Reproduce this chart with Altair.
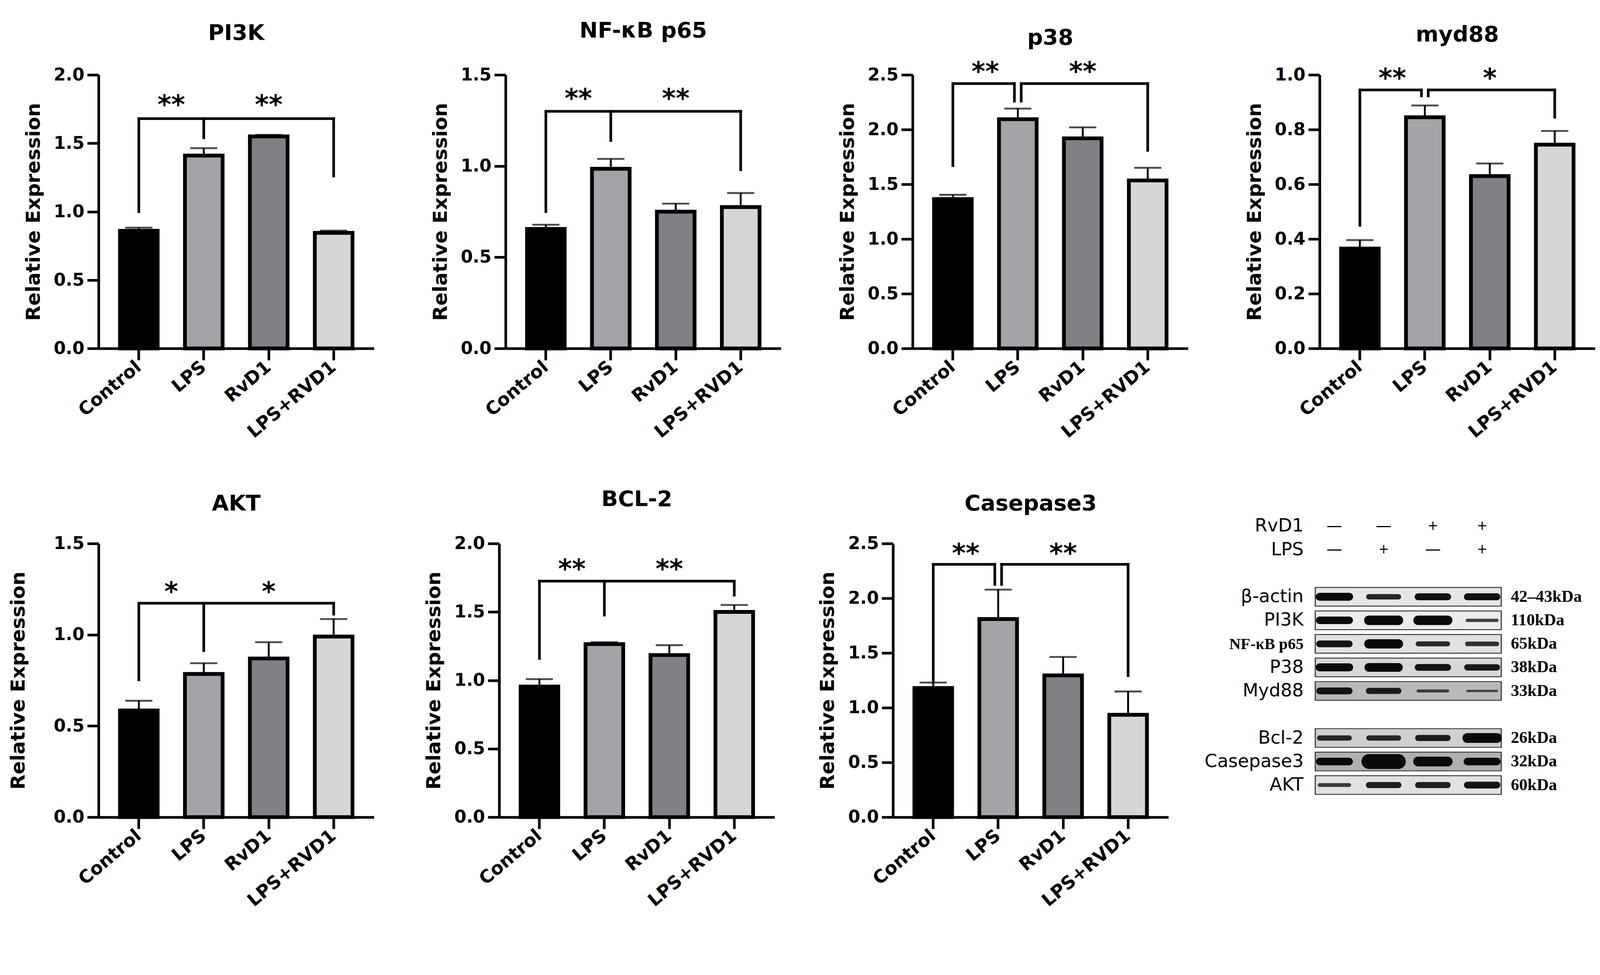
import altair as alt
import pandas as pd

# ---------------- data ----------------
groups = ["Control", "LPS", "RvD1", "LPS+RVD1"]
bar_colors = ["#000000", "#a3a4a8", "#7f8184", "#d4d6d8"]

titles = ["PI3K", "NF-κB p65", "p38", "myd88", "AKT", "BCL-2", "Casepase3"]
y_max = [2.0, 1.5, 2.5, 1.0, 1.5, 2.0, 2.5]
y_step = [0.5, 0.5, 0.5, 0.2, 0.5, 0.5, 0.5]

pi3k_mean = [0.86, 1.41, 1.55, 0.845]
pi3k_sem = [0.023, 0.054, 0.011, 0.016]
nfkb_mean = [0.655, 0.985, 0.75, 0.775]
nfkb_sem = [0.023, 0.054, 0.044, 0.077]
p38_mean = [1.365, 2.095, 1.92, 1.535]
p38_sem = [0.039, 0.097, 0.10, 0.116]
myd88_mean = [0.365, 0.845, 0.63, 0.745]
myd88_sem = [0.031, 0.043, 0.046, 0.05]
akt_mean = [0.585, 0.785, 0.87, 0.99]
akt_sem = [0.053, 0.059, 0.089, 0.096]
bcl2_mean = [0.955, 1.265, 1.185, 1.5]
bcl2_sem = [0.054, 0.014, 0.072, 0.051]
casp3_mean = [1.18, 1.81, 1.295, 0.935]
casp3_sem = [0.05, 0.269, 0.169, 0.213]

# significance brackets: bar height, leg bottoms (Control, LPS, LPS+RVD1)
bracket_y = [1.68, 1.30, 2.42, 0.945, 1.173, 1.725, 2.31]
pi3k_legs = [1.0, 1.54, 1.26]
nfkb_legs = [0.75, 1.14, 0.98]
p38_legs = [1.67, 2.26, 1.81]
myd88_legs = [0.45, 0.923, 0.845]
akt_legs = [0.753, 0.913, 1.113]
bcl2_legs = [1.16, 1.477, 1.623]
casp3_legs = [1.23, 2.126, 1.292]
star_y = [1.82, 1.40, 2.58, 1.007, 1.266, 1.852, 2.46]
star_labels = [["**", "**"], ["**", "**"], ["**", "**"], ["**", "*"],
               ["*", "*"], ["**", "**"], ["**", "**"]]
split_bracket = [False, False, True, True, False, False, True]

# western blot panel
blot_rows = ["β-actin", "PI3K", "NF-κB p65", "P38", "Myd88", "Bcl-2", "Casepase3", "AKT"]
blot_kda = ["42–43kDa", "110kDa", "65kDa", "38kDa", "33kDa", "26kDa", "32kDa", "60kDa"]
lanes = [1, 2, 3, 4]
band_bactin = [0.52, 0.36, 0.46, 0.46]
band_pi3k = [0.50, 0.63, 0.63, 0.22]
band_nfkb = [0.45, 0.62, 0.33, 0.30]
band_p38 = [0.53, 0.58, 0.45, 0.42]
band_myd88 = [0.45, 0.40, 0.20, 0.15]
band_bcl2 = [0.35, 0.35, 0.40, 0.65]
band_casp3 = [0.50, 0.98, 0.65, 0.50]
band_akt = [0.25, 0.40, 0.40, 0.45]
membrane_darkness = [0.15, 0.10, 0.20, 0.30, 0.65, 0.40, 0.75, 0.20]
rvd1_signs = ["—", "—", "+", "+"]
lps_signs = ["—", "+", "—", "+"]

# ---------------- layout / style ----------------
W, H = 730, 725
PAD_IN, PAD_OUT = 0.42, 0.33
STEP = W / (len(groups) - PAD_IN + 2 * PAD_OUT)
FONT = "DejaVu Sans"
title_offset = [58, 64, 27, 53, 53, 64, 53]
y_title_pad = [26, 26, 26, 26, 66, 26, 26]


def bar_panel(i, means, sems, legs):
    title = titles[i]
    ymax, ystep = y_max[i], y_step[i]
    ticks = [round(k * ystep, 2) for k in range(int(round(ymax / ystep)) + 1)]
    xscale = alt.Scale(domain=groups, paddingInner=PAD_IN, paddingOuter=PAD_OUT)
    yscale = alt.Scale(domain=[0, ymax], nice=False, zero=True)

    xaxis = alt.Axis(title=None, labelAngle=-40, labelAlign="right", labelBaseline="middle",
                     labelFont=FONT, labelFontWeight="bold", labelFontSize=48, labelColor="black",
                     labelPadding=12, labelLimit=600, domainColor="black", domainWidth=7,
                     tickColor="black", tickWidth=7, tickSize=31, grid=False)
    yaxis = alt.Axis(title="Relative Expression", values=ticks, format=".1f",
                     labelFont=FONT, labelFontWeight="bold", labelFontSize=46, labelColor="black",
                     labelPadding=8, titleFont=FONT, titleFontWeight="bold", titleFontSize=52,
                     titleColor="black", titlePadding=y_title_pad[i], domainColor="black",
                     domainWidth=7, tickColor="black", tickWidth=7, tickSize=30, grid=False)

    def X(field):
        return alt.X(field, sort=groups, scale=xscale, axis=xaxis, type="nominal")

    def Y(field):
        return alt.Y(field, scale=yscale, axis=yaxis, type="quantitative")

    df = pd.DataFrame({"group": groups, "mean": means,
                       "upper": [m + s for m, s in zip(means, sems)]})
    base = alt.Chart(df)

    bars = base.mark_bar(stroke="black", strokeWidth=10).encode(
        x=X("group"), y=Y("mean"),
        color=alt.Color("group:N", scale=alt.Scale(domain=groups, range=bar_colors), legend=None),
    )
    err = base.mark_rule(color="black", strokeWidth=5).encode(x=X("group"), y=Y("mean"), y2="upper:Q")
    cap = base.mark_tick(color="black", thickness=5, size=72).encode(x=X("group"), y=Y("upper"))

    # bracket segments
    by = bracket_y[i]
    segs = []
    if split_bracket[i]:
        segs.append(dict(g1=groups[0], g2=groups[1], y1=by, y2=by, s1=0, s2=-1))
        segs.append(dict(g1=groups[1], g2=groups[3], y1=by, y2=by, s1=1, s2=0))
        segs.append(dict(g1=groups[0], g2=groups[0], y1=legs[0], y2=by, s1=0, s2=0))
        segs.append(dict(g1=groups[1], g2=groups[1], y1=legs[1], y2=by, s1=-1, s2=-1))
        segs.append(dict(g1=groups[1], g2=groups[1], y1=legs[1], y2=by, s1=1, s2=1))
        segs.append(dict(g1=groups[3], g2=groups[3], y1=legs[2], y2=by, s1=0, s2=0))
    else:
        segs.append(dict(g1=groups[0], g2=groups[3], y1=by, y2=by, s1=0, s2=0))
        segs.append(dict(g1=groups[0], g2=groups[0], y1=legs[0], y2=by, s1=0, s2=0))
        segs.append(dict(g1=groups[1], g2=groups[1], y1=legs[1], y2=by, s1=0, s2=0))
        segs.append(dict(g1=groups[3], g2=groups[3], y1=legs[2], y2=by, s1=0, s2=0))
    seg_df = pd.DataFrame(segs)
    layers = [bars, err, cap]
    for a, b in [(0, 0), (0, -1), (1, 0), (-1, -1), (1, 1)]:
        sub = seg_df[(seg_df.s1 == a) & (seg_df.s2 == b)]
        if len(sub) == 0:
            continue
        layers.append(
            alt.Chart(sub).mark_rule(color="black", strokeWidth=7, strokeCap="square",
                                     xOffset=a * 9, x2Offset=b * 9).encode(
                x=X("g1"), x2="g2:N", y=Y("y1"), y2="y2:Q",
            )
        )
    # stars
    s1 = pd.DataFrame({"group": [groups[0]], "label": [star_labels[i][0]], "y": [star_y[i]]})
    s2 = pd.DataFrame({"group": [groups[2]], "label": [star_labels[i][1]], "y": [star_y[i]]})
    for sdf, dx in [(s1, STEP / 2), (s2, 0)]:
        layers.append(
            alt.Chart(sdf).mark_text(font=FONT, fontWeight="bold", fontSize=70, color="black",
                                     baseline="alphabetic", align="center", dx=dx, dy=38).encode(
                x=X("group"), y=Y("y"), text="label:N",
            )
        )
    return alt.layer(*layers).properties(
        width=W, height=H,
        title=alt.TitleParams(text=title, font=FONT, fontSize=58, fontWeight="bold",
                              color="black", anchor="middle", frame="group",
                              offset=title_offset[i]),
    )


p_pi3k = bar_panel(0, pi3k_mean, pi3k_sem, pi3k_legs)
p_nfkb = bar_panel(1, nfkb_mean, nfkb_sem, nfkb_legs)
p_p38 = bar_panel(2, p38_mean, p38_sem, p38_legs)
p_myd88 = bar_panel(3, myd88_mean, myd88_sem, myd88_legs)
p_akt = bar_panel(4, akt_mean, akt_sem, akt_legs)
p_bcl2 = bar_panel(5, bcl2_mean, bcl2_sem, bcl2_legs)
p_casp3 = bar_panel(6, casp3_mean, casp3_sem, casp3_legs)

# ---------------- western blot panel ----------------
band_lists = [band_bactin, band_pi3k, band_nfkb, band_p38, band_myd88, band_bcl2, band_casp3, band_akt]
band_df = pd.DataFrame([
    {"row": r, "lane": ln, "intensity": v}
    for r, vals in zip(blot_rows, band_lists) for ln, v in zip(lanes, vals)
])
memb_df = pd.DataFrame({"row": blot_rows, "dark": membrane_darkness, "kda": blot_kda})
sign_df = pd.DataFrame(
    [{"row": "RvD1", "lane": ln, "sign": s} for ln, s in zip(lanes, rvd1_signs)]
    + [{"row": "LPS", "lane": ln, "sign": s} for ln, s in zip(lanes, lps_signs)]
)

y_domain = ["RvD1", "LPS", " "] + blot_rows[:5] + ["  "] + blot_rows[5:]
ys = alt.Scale(type="point", domain=y_domain, range=[-46, 640], padding=0)
xs = alt.Scale(domain=[0.6, 4.4], nice=False, zero=False)

nf_test = "datum.value == 'NF-κB p65'"
left_axis = alt.Axis(
    title=None, domain=False, ticks=False, grid=False, labelPadding=30, labelLimit=600,
    labelColor="black",
    labelFont={"condition": {"test": nf_test, "value": "Liberation Serif"}, "value": FONT},
    labelFontWeight={"condition": {"test": nf_test, "value": "bold"}, "value": "normal"},
    labelFontSize={"condition": {"test": nf_test, "value": 42}, "value": 48},
)


def BY():
    return alt.Y("row:N", scale=ys, axis=left_axis)


memb_outer = alt.Chart(memb_df).mark_rule(color="#3a3a3a", strokeWidth=52).encode(
    x=alt.value(0), x2=alt.value("width"), y=BY(),
)
memb_inner = alt.Chart(memb_df).mark_rule(strokeWidth=47, xOffset=3, x2Offset=-3).encode(
    x=alt.value(0), x2=alt.value("width"), y=BY(),
    color=alt.Color("dark:Q", scale=alt.Scale(domain=[0, 1], range=["#f4f4f4", "#9a9a9a"]),
                    legend=None),
)
bands = alt.Chart(band_df).transform_calculate(
    xa="datum.lane - 0.3", xb="datum.lane + 0.3"
).mark_rule(color="#0a0a0a", strokeCap="round").encode(
    x=alt.X("xa:Q", scale=xs, axis=None), x2="xb:Q",
    y=BY(),
    strokeWidth=alt.StrokeWidth("intensity:Q", scale=alt.Scale(domain=[0, 1], range=[0, 40]),
                                legend=None),
    opacity=alt.Opacity("intensity:Q", scale=alt.Scale(domain=[0, 0.5], range=[0.55, 1], clamp=True),
                        legend=None),
)
signs = alt.Chart(sign_df).mark_text(font=FONT, color="black", baseline="middle").encode(
    x=alt.X("lane:Q", scale=xs, axis=None),
    y=BY(),
    text="sign:N",
    size=alt.condition("datum.sign == '+'", alt.value(34), alt.value(42)),
)
kda = alt.Chart(memb_df).mark_text(font="Liberation Serif", fontWeight="bold", fontSize=44,
                                   color="black", align="left", baseline="middle", dx=24).encode(
    x=alt.value("width"),
    y=BY(),
    text="kda:N",
)
blot = alt.layer(memb_outer, memb_inner, bands, signs, kda).properties(width=496, height=H)

row1 = alt.hconcat(p_pi3k, p_nfkb, p_p38, p_myd88, spacing=150)
row2 = alt.hconcat(
    alt.hconcat(p_akt, p_bcl2, spacing=133),
    alt.hconcat(p_casp3, blot, spacing=95),
    spacing=115,
)

chart = alt.vconcat(row1, row2, spacing=125).properties(
    padding={"left": 14, "top": 3, "right": 5, "bottom": 5},
    background="white",
).configure_view(stroke=None)

chart.save("out.html", embed_options={"renderer": "svg", "actions": False})
